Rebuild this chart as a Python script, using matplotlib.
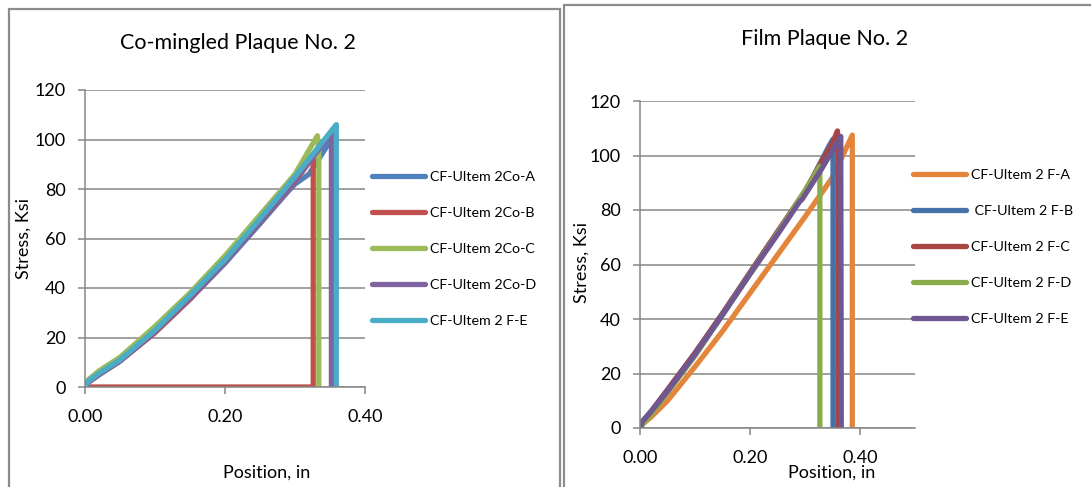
import matplotlib
matplotlib.use("Agg")
import matplotlib.pyplot as plt
from matplotlib.patches import Rectangle

plt.rcParams['font.family'] = ['Lato', 'DejaVu Sans']

# ---------------- data: Co-mingled Plaque No. 2 ----------------
left_title = "Co-mingled Plaque No. 2"
left_labels = ["CF-Ultem 2Co-A", "CF-Ultem 2Co-B", "CF-Ultem 2Co-C",
               "CF-Ultem 2Co-D", "CF-Ultem 2 F-E"]
left_colors = ["#4F81BD", "#C0504D", "#9BBB59", "#8064A2", "#4BACC6"]

coA_x = [0, 0.005, 0.02, 0.05, 0.10, 0.15, 0.20, 0.25, 0.29, 0.30, 0.32, 0.345, 0.358, 0.358]
coA_y = [0, 2.0, 5.0, 10.5, 22.0, 35.5, 50.0, 66.0, 79.0, 82.0, 86.0, 97.0, 105.0, 0]
coB_x = [0, 0.005, 0.02, 0.05, 0.10, 0.15, 0.20, 0.25, 0.30, 0.326, 0.326, 0.0]
coB_y = [0, 2.0, 5.0, 10.5, 22.0, 35.5, 50.5, 66.5, 83.0, 93.0, 0, 0]
coC_x = [0, 0.005, 0.02, 0.05, 0.10, 0.15, 0.20, 0.25, 0.30, 0.332, 0.334, 0.334]
coC_y = [0, 3.0, 6.5, 12.0, 24.5, 38.0, 53.0, 69.5, 86.0, 101.5, 96.0, 0]
coD_x = [0, 0.005, 0.02, 0.05, 0.10, 0.15, 0.20, 0.25, 0.30, 0.35, 0.352, 0.352]
coD_y = [0, 2.0, 5.0, 10.5, 22.5, 36.0, 50.5, 66.5, 83.5, 102.0, 103.0, 0]
coE_x = [0, 0.005, 0.02, 0.05, 0.10, 0.15, 0.20, 0.25, 0.30, 0.359, 0.359]
coE_y = [0, 2.5, 5.5, 11.0, 23.0, 37.0, 51.5, 68.0, 85.0, 106.0, 0]

left_x = [coA_x, coB_x, coC_x, coD_x, coE_x]
left_y = [coA_y, coB_y, coC_y, coD_y, coE_y]

# ---------------- data: Film Plaque No. 2 ----------------
right_title = "Film Plaque No. 2"
right_labels = ["CF-Ultem 2 F-A", " CF-Ultem 2 F-B", "CF-Ultem 2 F-C",
                "CF-Ultem 2 F-D", "CF-Ultem 2 F-E"]
right_colors = ["#E3853A", "#4672AA", "#A94442", "#8BAC4A", "#6F5792"]

fA_x = [0, 0.005, 0.02, 0.05, 0.10, 0.15, 0.20, 0.25, 0.30, 0.35, 0.386, 0.386]
fA_y = [0, 1.5, 4.0, 10.0, 22.5, 35.5, 49.5, 63.5, 77.5, 92.0, 107.5, 0]
fB_x = [0, 0.005, 0.02, 0.05, 0.10, 0.15, 0.20, 0.25, 0.30, 0.345, 0.351, 0.351]
fB_y = [0, 2.5, 6.0, 14.0, 27.5, 42.0, 57.0, 72.0, 86.5, 104.0, 106.0, 0]
fC_x = [0, 0.005, 0.02, 0.05, 0.10, 0.15, 0.20, 0.25, 0.30, 0.35, 0.359, 0.360, 0.360]
fC_y = [0, 2.5, 6.0, 14.0, 27.5, 42.0, 57.0, 72.0, 87.0, 104.5, 109.0, 106.0, 0]
fD_x = [0, 0.005, 0.02, 0.05, 0.10, 0.15, 0.20, 0.25, 0.29, 0.30, 0.325, 0.327, 0.327]
fD_y = [0, 1.5, 5.0, 13.0, 26.5, 41.5, 56.5, 71.5, 84.0, 87.0, 95.5, 96.0, 0]
fE_x = [0, 0.005, 0.02, 0.05, 0.10, 0.15, 0.20, 0.25, 0.29, 0.295, 0.33, 0.365, 0.366]
fE_y = [0, 2.5, 6.0, 13.5, 27.0, 41.5, 56.5, 71.0, 83.0, 84.0, 95.0, 107.0, 0]

right_x = [fA_x, fB_x, fC_x, fD_x, fE_x]
right_y = [fA_y, fB_y, fC_y, fD_y, fE_y]

W, H = 1091, 487
fig = plt.figure(figsize=(W / 100, H / 100), dpi=100)

GRAY = "#868686"

# panel borders
fig.patches.append(Rectangle((9 / W, -0.05), (560 - 9) / W, 1.05 - 9 / H,
                             transform=fig.transFigure, fill=False,
                             edgecolor="#8C8C8C", linewidth=1.6))
fig.patches.append(Rectangle((564 / W, -0.05), 0.6, 1.05 - 5 / H,
                             transform=fig.transFigure, fill=False,
                             edgecolor="#8C8C8C", linewidth=1.6))


def style_axes(ax, xmax, xticks):
    ax.set_xlim(0, xmax)
    ax.set_ylim(0, 120)
    ax.set_yticks(range(0, 121, 20))
    ax.set_xticks(xticks)
    ax.set_xticklabels([f"{t:.2f}" for t in xticks])
    ax.grid(axis='y', color=GRAY, linewidth=1.1)
    ax.set_axisbelow(True)
    for s in ['top', 'right']:
        ax.spines[s].set_visible(False)
    for s in ['left', 'bottom']:
        ax.spines[s].set_color(GRAY)
        ax.spines[s].set_linewidth(1.1)
    ax.tick_params(axis='both', colors=GRAY, labelcolor='black', length=5,
                   width=1.1, labelsize=13)
    ax.tick_params(axis='y', pad=9)
    ax.tick_params(axis='x', pad=11)


LW = 3.8

# ---------- left panel ----------
axL = fig.add_axes([85 / W, 1 - 387 / H, 280 / W, 297 / H])
for xs, ys, c, lab in zip(left_x, left_y, left_colors, left_labels):
    axL.plot(xs, ys, color=c, lw=LW, label=lab, solid_capstyle='round',
             solid_joinstyle='round')
style_axes(axL, 0.40, [0.0, 0.2, 0.4])
axL.set_ylabel("Stress, Ksi", fontsize=13)
axL.yaxis.set_label_coords(-0.19, 0.5)
axL.set_xlabel("Position, in", fontsize=13)
axL.xaxis.set_label_coords(0.65, -0.262)
fig.text(238 / W, 1 - 43 / H, left_title, ha='center', va='center', fontsize=15.5)
axL.legend(loc='center left', bbox_to_anchor=(372 / W, 1 - 249 / H),
           bbox_transform=fig.transFigure, frameon=False, fontsize=10.3,
           handlelength=3.7, handletextpad=0.35, labelspacing=1.66,
           borderpad=0, borderaxespad=0)

# ---------- right panel ----------
axR = fig.add_axes([640 / W, 1 - 428 / H, 275 / W, 327 / H])
for xs, ys, c, lab in zip(right_x, right_y, right_colors, right_labels):
    axR.plot(xs, ys, color=c, lw=LW, label=lab, solid_capstyle='round',
             solid_joinstyle='round')
style_axes(axR, 0.50, [0.0, 0.2, 0.4])
axR.set_ylabel("Stress, Ksi", fontsize=13)
axR.yaxis.set_label_coords(-0.182, 0.505)
axR.set_xlabel("Position, in", fontsize=13)
axR.xaxis.set_label_coords(0.698, -0.113)
fig.text(825 / W, 1 - 39 / H, right_title, ha='center', va='center', fontsize=15.5)
axR.legend(loc='center left', bbox_to_anchor=(913 / W, 1 - 247 / H),
           bbox_transform=fig.transFigure, frameon=False, fontsize=10.3,
           handlelength=3.7, handletextpad=0.35, labelspacing=1.66,
           borderpad=0, borderaxespad=0)

fig.savefig("out.png", dpi=100)
